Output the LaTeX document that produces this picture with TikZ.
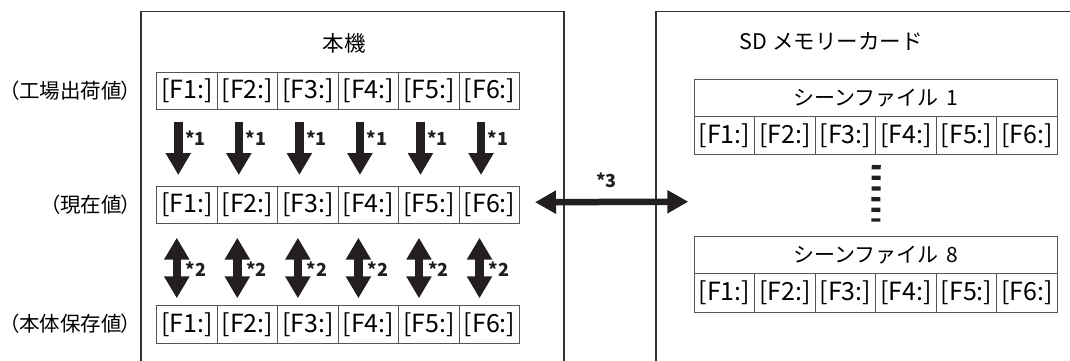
\documentclass[tikz,border=0pt]{standalone}
\usepackage{fontspec}
\setmainfont{Noto Sans CJK JP}
\newfontfamily\jp{Noto Sans CJK JP}
\newfontfamily\jpp[RawFeature=+palt]{Noto Sans CJK JP}
\usetikzlibrary{arrows.meta}
\definecolor{arrowc}{HTML}{231F20}
\definecolor{boxc}{HTML}{333333}
\definecolor{cellc}{HTML}{555555}
\begin{document}
\begin{tikzpicture}[x=1pt,y=-1pt,
  cellbox/.style={draw=cellc, line width=1pt, minimum width=60.55pt, minimum height=37.6pt,
    inner sep=0pt, anchor=north west, font=\jp\fontsize{25}{25}\selectfont},
  titlebox/.style={draw=cellc, line width=1pt, minimum width=363.3pt, minimum height=36.7pt,
    inner sep=0pt, anchor=north west, font=\jp\fontsize{21}{21}\selectfont},
  rowlabel/.style={anchor=east, inner sep=0pt, font=\jpp\fontsize{20.5}{20.5}\selectfont},
  heading/.style={inner sep=0pt, font=\jp\fontsize{21.5}{21.5}\selectfont},
  starlab/.style={inner sep=0pt, font=\jp\bfseries\fontsize{18}{18}\selectfont, text=arrowc},
  downarr/.style={draw=arrowc, line width=8.5pt, -{Triangle[width=24pt,length=22pt]}},
  dblarr/.style={draw=arrowc, line width=8.5pt, {Triangle[width=24pt,length=22pt]}-{Triangle[width=24pt,length=22pt]}},
  horarr/.style={draw=arrowc, line width=6.5pt, {Triangle[width=22pt,length=21pt]}-{Triangle[width=22pt,length=21pt]}},
  boxline/.style={draw=boxc, line width=1.3pt},
  dotline/.style={draw=arrowc, line width=9pt, dash pattern=on 4.3pt off 6.37pt}
]
\useasboundingbox (0,0) rectangle (1070,360);

% outer boxes
\draw[boxline] (141,365) |- (564,11.5) -- (564,365);
\draw[boxline] (656,365) |- (1075,11.5);

% headings
\node[heading] (hl) at (344,43.3) {本機};
\node[heading] (hr) at (831,41.7) {SD\hspace{0.25em}メモリーカード};

% row labels
\node[rowlabel] (lab1) at (132,90.5) {（工場出荷値）};
\node[rowlabel] (lab2) at (132,204.5) {（現在値）};
\node[rowlabel] (lab3) at (132,323.8) {（本体保存値）};

% left cells
\foreach \i in {1,...,6}{
  \node[cellbox] (t\i) at ({156+(\i-1)*60.55},71.7) {[F\i:]};
  \node[cellbox] (m\i) at ({156+(\i-1)*60.55},185.7) {[F\i:]};
  \node[cellbox] (b\i) at ({156+(\i-1)*60.55},305) {[F\i:]};
}

% scene files
\node[titlebox] (saT) at (693.6,79.3) {シーンファイル\hspace{0.35em}1};
\node[titlebox] (sbT) at (693.6,236) {シーンファイル\hspace{0.35em}8};
\foreach \i in {1,...,6}{
  \node[cellbox, minimum height=38.3pt] (sa\i) at ({693.6+(\i-1)*60.55},116) {[F\i:]};
  \node[cellbox, minimum height=38.4pt] (sb\i) at ({693.6+(\i-1)*60.55},273.3) {[F\i:]};
}

% arrows *1 and *2
\foreach \i in {1,...,6}{
  \draw[downarr] ([xshift=-8.5pt,yshift=-11.4pt]t\i.south) -- ([xshift=-8.5pt,yshift=10.7pt]m\i.north);
  \node[starlab] (s1\i) at ([xshift=8.5pt,yshift=-27.4pt]t\i.south) {*1};
  \draw[dblarr] ([xshift=-10pt,yshift=-13.4pt]m\i.south) -- ([xshift=-10pt,yshift=6.7pt]b\i.north);
  \node[starlab] (s2\i) at ([xshift=9.3pt,yshift=-45pt]m\i.south) {*2};
}

% arrow *3
\coordinate (r3) at (688.3,201.7);
\draw[horarr] ([xshift=14.7pt,yshift=2.8pt]m6.east) -- (r3);
\node[starlab] (s3) at (606.7,180.7) {*3};

% dots
\draw[dotline] ([yshift=-9.7pt]sa3.south east) -- ([yshift=14.4pt]sbT.north);
\end{tikzpicture}
\end{document}
